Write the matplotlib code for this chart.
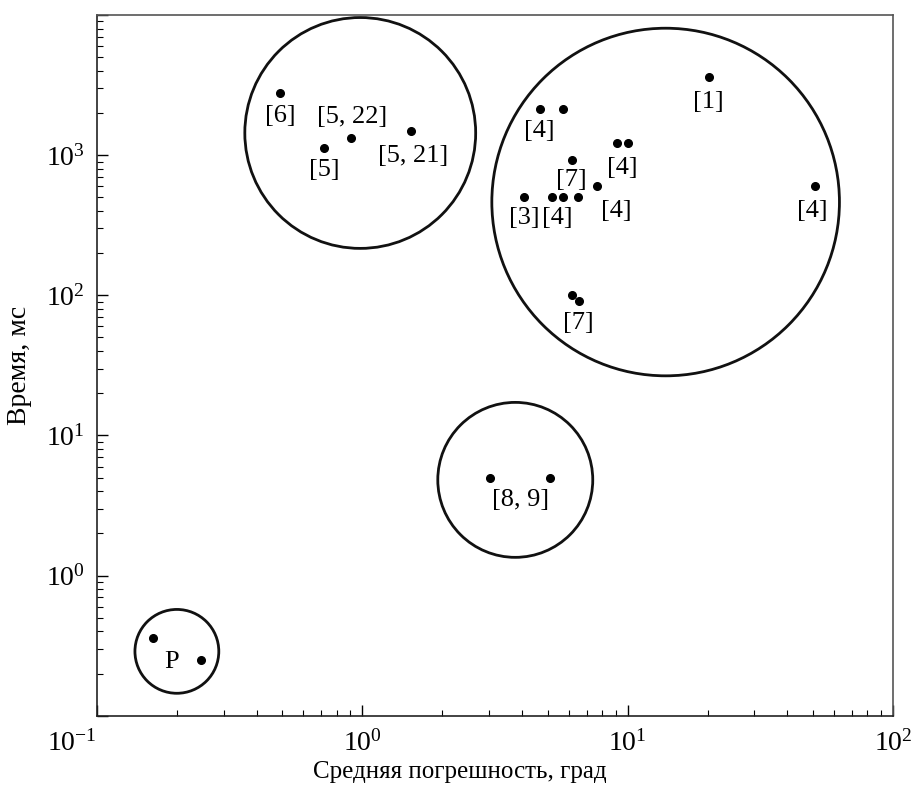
import numpy as np
import matplotlib
matplotlib.use("Agg")
import matplotlib.pyplot as plt
from matplotlib.patches import Ellipse
from matplotlib.transforms import Affine2D

plt.rcParams['font.family'] = ['Liberation Serif', 'DejaVu Serif']
plt.rcParams['mathtext.fontset'] = 'custom'
plt.rcParams['mathtext.rm'] = 'Liberation Serif'
plt.rcParams['mathtext.it'] = 'Liberation Serif:italic'

# точки: средняя погрешность (град) и время (мс)
err = [0.49, 0.72, 0.91, 1.52,
       20.2, 4.66, 5.69, 9.09, 10.0, 6.15, 7.64,
       4.06, 5.17, 5.69, 6.48, 50.6, 6.15, 6.54,
       3.02, 5.08,
       0.163, 0.247]
time_ms = [2780, 1125, 1327, 1490,
           3610, 2140, 2140, 1223, 1223, 925, 602,
           504, 504, 504, 504, 602, 100.7, 91,
           4.98, 4.98,
           0.36, 0.25]

# подписи ссылок
lab_text = ['[6]', '[5, 22]', '[5]', '[5, 21]', '[1]', '[4]', '[4]', '[7]',
            '[4]', '[3]', '[4]', '[4]', '[7]', '[8, 9]', 'P']
lab_x = [0.49, 0.912, 0.72, 1.56, 20.2, 4.66, 9.58, 6.15,
         9.09, 4.08, 5.45, 49.8, 6.54, 3.95, 0.191]
lab_y = [1900, 1870, 783, 986, 2390, 1490, 811, 665,
         400, 357, 357, 400, 63.5, 3.47, 0.243]

# группы (окружности): центр и радиус в декадах по оси x
grp_x = [0.982, 13.9, 3.77, 0.2]
grp_y = [1440, 463, 4.82, 0.288]
grp_r = [0.435, 0.655, 0.292, 0.158]

# деления осей
xticks = [0.1, 1, 10, 100]
xticklabels = [r'$\mathdefault{10^{-1}}$', r'$\mathdefault{10^{0}}$',
               r'$\mathdefault{10^{1}}$', r'$\mathdefault{10^{2}}$']
yticks = [0.1, 1, 10, 100, 1000, 10000]
yticklabels = ['', r'$\mathdefault{10^{0}}$', r'$\mathdefault{10^{1}}$',
               r'$\mathdefault{10^{2}}$', r'$\mathdefault{10^{3}}$', '']

fig = plt.figure(figsize=(9.15, 7.9), dpi=100)
ax = fig.add_axes([0.106, 0.094, 0.87, 0.887])
ax.set_xscale('log')
ax.set_yscale('log')
ax.set_xlim(0.1, 100)
ax.set_ylim(0.1, 1e4)

ax.plot(err, time_ms, 'o', color='black', markersize=5.5, linestyle='none')

for t, x, y in zip(lab_text, lab_x, lab_y):
    ax.text(x, y, t, ha='center', va='center', fontsize=19)

# окружности рисуются в пространстве логарифмов, чтобы на экране были круглыми
x0, x1 = np.log10(ax.get_xlim())
y0, y1 = np.log10(ax.get_ylim())
log_tr = Affine2D().translate(-x0, -y0).scale(1 / (x1 - x0), 1 / (y1 - y0)) + ax.transAxes
bb = ax.get_window_extent()
ratio = (bb.width / (x1 - x0)) / (bb.height / (y1 - y0))
for cx, cy, r in zip(grp_x, grp_y, grp_r):
    ax.add_patch(Ellipse((np.log10(cx), np.log10(cy)), 2 * r, 2 * r * ratio,
                         transform=log_tr, fill=False, edgecolor='#111111',
                         linewidth=2.0, clip_on=False))

ax.set_xticks(xticks, xticklabels)
ax.set_yticks(yticks, yticklabels)
ax.set_xlim(0.1, 100)
ax.set_ylim(0.1, 1e4)

ax.tick_params(which='both', direction='in', top=False, right=False,
               labelsize=20)
ax.tick_params(axis='x', pad=10)
ax.tick_params(axis='y', pad=9)
ax.tick_params(which='major', length=8, width=1.0)
ax.tick_params(which='minor', length=4.5, width=0.8)
for side in ['top', 'right']:
    ax.spines[side].set_color('#555555')
for side in ['left', 'bottom']:
    ax.spines[side].set_color('#222222')
for s in ax.spines.values():
    s.set_linewidth(1.2)

# первая подпись по x прижата к углу осей
ax.xaxis.get_major_ticks()[0].label1.set_horizontalalignment('right')

ax.set_xlabel('Средняя погрешность, град', fontsize=18)
ax.xaxis.set_label_coords(0.456, -0.065)
ax.set_ylabel('Время, мс', fontsize=20, labelpad=10)

fig.savefig('out.png', dpi=100)
